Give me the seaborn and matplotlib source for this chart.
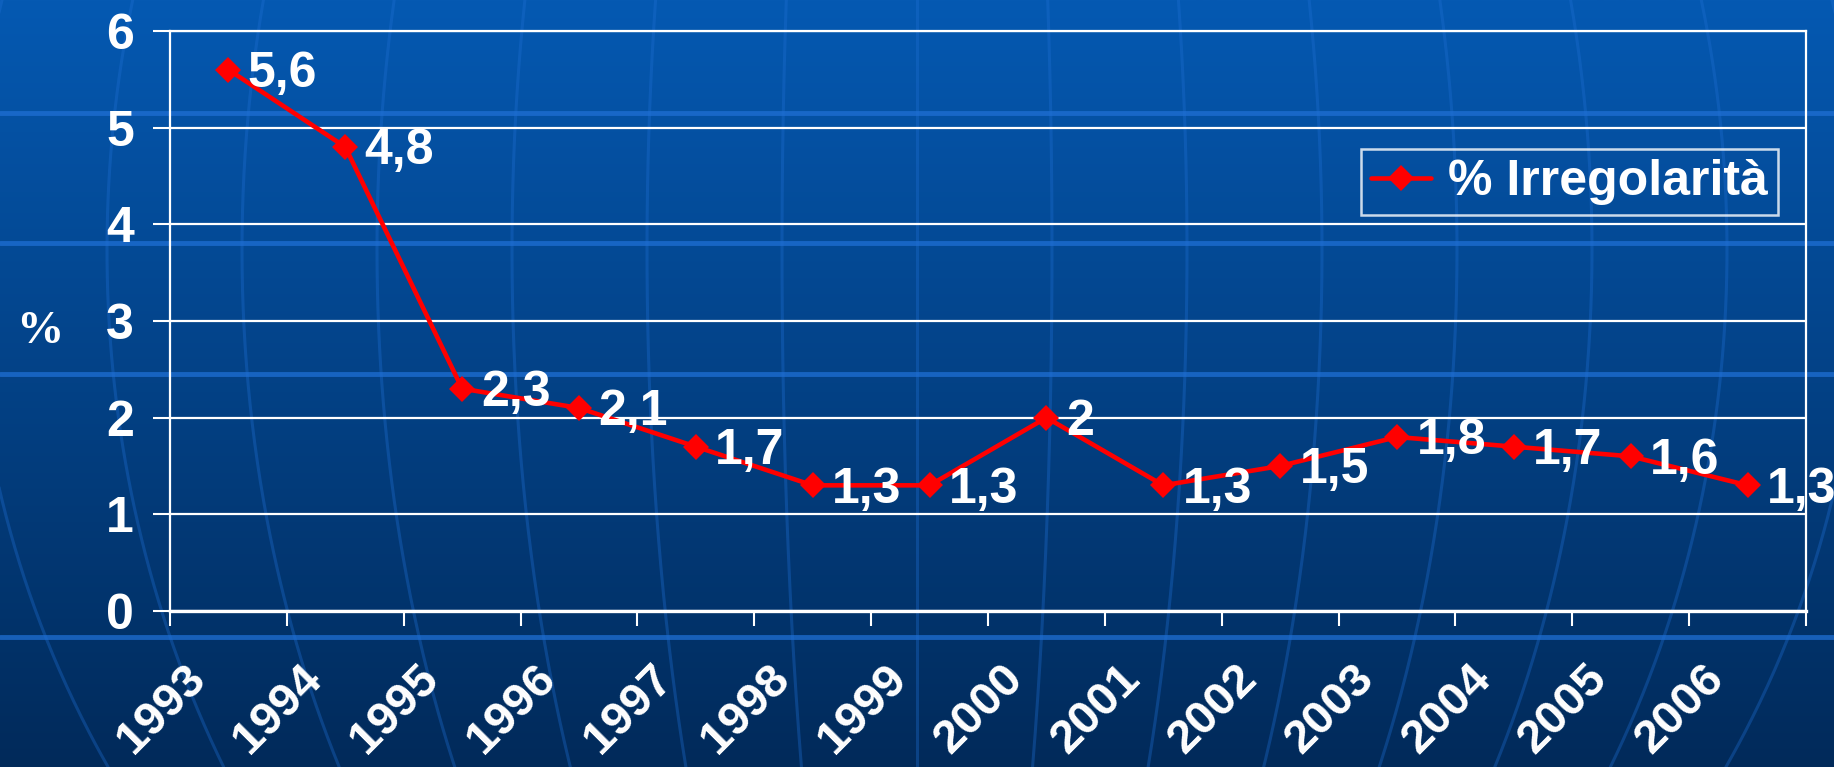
import numpy as np
import matplotlib
matplotlib.use("Agg")
import matplotlib.pyplot as plt
import matplotlib.transforms as mtransforms
from matplotlib.colors import LinearSegmentedColormap
import seaborn as sns

YEARS = ["1993", "1994", "1995", "1996", "1997", "1998", "1999",
         "2000", "2001", "2002", "2003", "2004", "2005", "2006"]
IRREG = [5.6, 4.8, 2.3, 2.1, 1.7, 1.3, 1.3, 2.0, 1.3, 1.5, 1.8, 1.7, 1.6, 1.3]
SERIES_NAME = "% Irregolarità"
Y_TICKS = [0, 1, 2, 3, 4, 5, 6]

W, H = 1834, 767
BG_TOP = "#0559b2"
BG_BOTTOM = "#012a5a"
DECO = "#1f6fd4"
LINE_RED = "#ff0000"

sns.set_style("dark")
plt.rcParams["font.family"] = ["Liberation Sans", "DejaVu Sans"]
plt.rcParams["font.weight"] = "bold"

fig = plt.figure(figsize=(W / 100, H / 100), dpi=100)

# background: vertical gradient with the template's globe lines
bg = fig.add_axes([0, 0, 1, 1], zorder=0)
cmap = LinearSegmentedColormap.from_list("bg", [BG_TOP, BG_BOTTOM])
grad = np.linspace(0, 1, 256).reshape(-1, 1)
bg.imshow(grad, cmap=cmap, aspect="auto", extent=[0, W, H, 0])
yy = np.linspace(0, H, 200)
g = np.sqrt(1 - ((yy - 250) / 1000) ** 2)
for k in range(-8, 9):
    bg.plot(917 + k * 135 * g, yy, color=DECO, lw=2.2, alpha=0.35)
for yb in (113, 243, 374, 637):
    bg.axhline(yb, color=DECO, lw=3.5, alpha=0.75)
bg.set_xlim(0, W)
bg.set_ylim(H, 0)
bg.set_axis_off()

# plot area
ax = fig.add_axes([170 / W, 1 - 611 / H, (1806 - 170) / W, (611 - 31) / H], zorder=1)
ax.patch.set_alpha(0)

xpos = np.arange(len(YEARS))
sns.lineplot(x=xpos, y=IRREG, ax=ax, color=LINE_RED, lw=3.3, marker="D",
             markersize=13, markeredgewidth=0, label=SERIES_NAME)

for x, v in zip(xpos, IRREG):
    ax.annotate(f"{v:g}".replace(".", ","), (x, v), xytext=(14, -3),
                textcoords="offset points", ha="left", va="center",
                color="white", fontsize=36, fontweight="bold", zorder=5)

ax.set_xlim(-0.5, len(YEARS) - 0.5)
ax.set_ylim(0, 6)
ax.set_yticks(Y_TICKS)
ax.set_yticklabels([str(t) for t in Y_TICKS])
ax.set_xticks(xpos)
ax.set_xticklabels(YEARS)
ax.set_xticks(np.arange(len(YEARS) + 1) - 0.5, minor=True)

ax.grid(False)
for t in Y_TICKS:
    ax.axhline(t, color="white", lw=1.6, zorder=0.5)
for side in ("left", "right", "top"):
    ax.spines[side].set_visible(True)
    ax.spines[side].set_color("white")
    ax.spines[side].set_linewidth(1.6)
ax.spines["bottom"].set_visible(True)
ax.spines["bottom"].set_color("white")
ax.spines["bottom"].set_linewidth(2.4)

ax.tick_params(axis="y", which="major", direction="out", length=12, width=1.5,
               color="white", labelcolor="white", labelsize=36, pad=14, left=True)
ax.tick_params(axis="x", which="major", length=0, labelcolor="white",
               labelsize=34, pad=44, bottom=True)
ax.tick_params(axis="x", which="minor", direction="out", length=11, width=1.5,
               color="white", bottom=True)
for lab in ax.get_yticklabels():
    lab.set_fontweight("bold")
shift = mtransforms.ScaledTranslation(-0.30, 0, fig.dpi_scale_trans)
for lab in ax.get_xticklabels():
    lab.set_rotation(45)
    lab.set_ha("right")
    lab.set_va("center")
    lab.set_rotation_mode("anchor")
    lab.set_fontweight("bold")
    lab.set_transform(lab.get_transform() + shift)
ax.set_xlabel("")
ax.set_ylabel("")

fig.text(40 / W, 1 - 332 / H, "%", color="white", fontsize=34,
         fontweight="bold", family=["Liberation Serif", "DejaVu Serif"],
         ha="center", va="center")

leg = ax.legend(loc="upper right", bbox_to_anchor=(1778 / W, 1 - 149 / H),
                bbox_transform=fig.transFigure, borderaxespad=0,
                fontsize=36, frameon=True, fancybox=False, borderpad=0.2,
                handlelength=1.2, handletextpad=0.35)
leg.get_frame().set_facecolor("none")
leg.get_frame().set_edgecolor("white")
leg.get_frame().set_linewidth(1.8)
for txt in leg.get_texts():
    txt.set_color("white")
    txt.set_fontweight("bold")

fig.savefig("out.png", dpi=100)
